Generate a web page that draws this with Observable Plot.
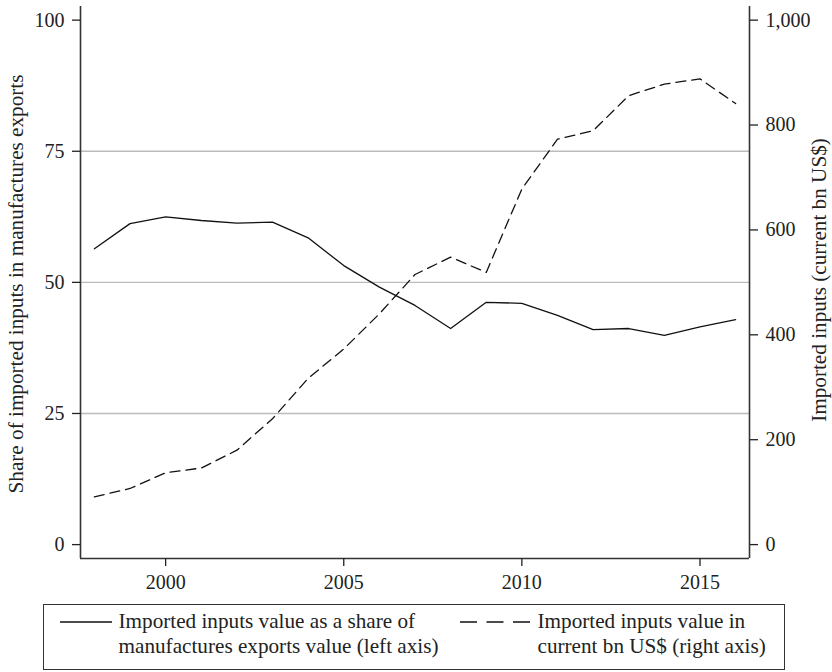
<!DOCTYPE html>
<html><head><meta charset="utf-8">
<script src="https://cdn.jsdelivr.net/npm/d3@7"></script>
<script src="https://cdn.jsdelivr.net/npm/@observablehq/plot@0.6"></script>
<style>
body{margin:0;background:#fff;}
#wrap{position:relative;width:832px;height:672px;font-family:"Liberation Serif",serif;color:#222;background:#fff;}
#chart{position:absolute;left:0;top:0;}
#legend{position:absolute;left:43px;top:604px;width:742px;height:66px;border:1.5px solid #333;box-sizing:border-box;}
.sample{position:absolute;}
.ltext{position:absolute;font-size:21.2px;line-height:25px;white-space:nowrap;}
.ytitle{position:absolute;font-size:21.2px;line-height:22px;white-space:nowrap;transform:translate(-50%,-50%) rotate(-90deg);}
</style>
</head><body>
<div id="wrap">
  <div id="chart"></div>
  <div id="ltitle" class="ytitle" style="left:16px;top:284px;"></div>
  <div id="rtitle" class="ytitle" style="left:819px;top:280px;"></div>
  <div id="legend"></div>
</div>
<script>
const years = [1998,1999,2000,2001,2002,2003,2004,2005,2006,2007,2008,2009,2010,2011,2012,2013,2014,2015,2016];
const sharePct = [56.4,61.2,62.5,61.8,61.3,61.5,58.5,53.2,49.1,45.6,41.2,46.2,46.0,43.7,41.0,41.2,39.9,41.5,42.9];
const importsBn = [91,107,137,146,180,240,317,373,440,515,548,519,678,773,789,856,878,888,841];
const leftTicks = [0,25,50,75,100];
const rightTicks = [0,200,400,600,800,1000];
const xTicks = [2000,2005,2010,2015];
const gridLevels = [25,50,75];
const seriesNames = [
  ["Imported inputs value as a share of","manufactures exports value (left axis)"],
  ["Imported inputs value in","current bn US$ (right axis)"]
];
const leftTitle = "Share of imported inputs in manufactures exports";
const rightTitle = "Imported inputs (current bn US$)";

const ratio = 10; // right-axis units per left-axis unit
const xDomain = [1997.61, 2016.39];
const yDomain = [-2.65, 102.6];
const rows = years.map((y,i)=>({year:y, share:sharePct[i], importsScaled:importsBn[i]/ratio}));

const ink = "#222";
const chart = Plot.plot({
  width:832, height:600,
  marginLeft:80, marginRight:83, marginTop:6, marginBottom:42,
  x:{domain:xDomain},
  y:{domain:yDomain},
  style:{fontFamily:"'Liberation Serif', serif", fontSize:"20px", color:ink, background:"#fff"},
  marks:[
    Plot.ruleY(gridLevels,{stroke:"#bcbcbc", strokeWidth:1.3}),
    Plot.ruleX([xDomain[0], xDomain[1]],{stroke:"#333", strokeWidth:1.6}),
    Plot.ruleY([yDomain[0]],{stroke:"#333", strokeWidth:1.6}),
    Plot.axisX({ticks:xTicks, tickSize:8, tickPadding:8, tickFormat:"d", label:null, strokeWidth:1.3}),
    Plot.axisY({anchor:"left", ticks:leftTicks, tickSize:8, tickPadding:8, tickFormat:"d", label:null, strokeWidth:1.3}),
    Plot.axisY({anchor:"right", ticks:rightTicks.map(v=>v/ratio), tickSize:8, tickPadding:8,
      tickFormat:d=>d3.format(",")(Math.round(d*ratio)), label:null, strokeWidth:1.3}),
    Plot.line(rows,{x:"year", y:"share", stroke:"#111", strokeWidth:1.3}),
    Plot.line(rows,{x:"year", y:"importsScaled", stroke:"#111", strokeWidth:1.3, strokeDasharray:"10,6"})
  ]
});
document.getElementById("chart").appendChild(chart);
document.getElementById("ltitle").textContent = leftTitle;
document.getElementById("rtitle").textContent = rightTitle;

// legend
const legend = document.getElementById("legend");
const dashes = [null, "17,9.5"];
const sampleLeft = [15.5, 415.5];
const textLeft = [74.5, 493.5];
const sampleW = [52, 70];
seriesNames.forEach((lines,i)=>{
  const svg = d3.create("svg").attr("class","sample")
    .attr("width", sampleW[i]).attr("height", 4)
    .style("left", sampleLeft[i]+"px").style("top", "15px");
  svg.append("line").attr("x1",0).attr("x2",sampleW[i]).attr("y1",2).attr("y2",2)
    .attr("stroke","#111").attr("stroke-width",1.4)
    .attr("stroke-dasharray", dashes[i]);
  legend.appendChild(svg.node());
  const t = document.createElement("div");
  t.className = "ltext";
  t.style.left = textLeft[i]+"px";
  t.style.top = "4px";
  t.innerHTML = lines.join("<br>");
  legend.appendChild(t);
});
</script>
</body></html>
